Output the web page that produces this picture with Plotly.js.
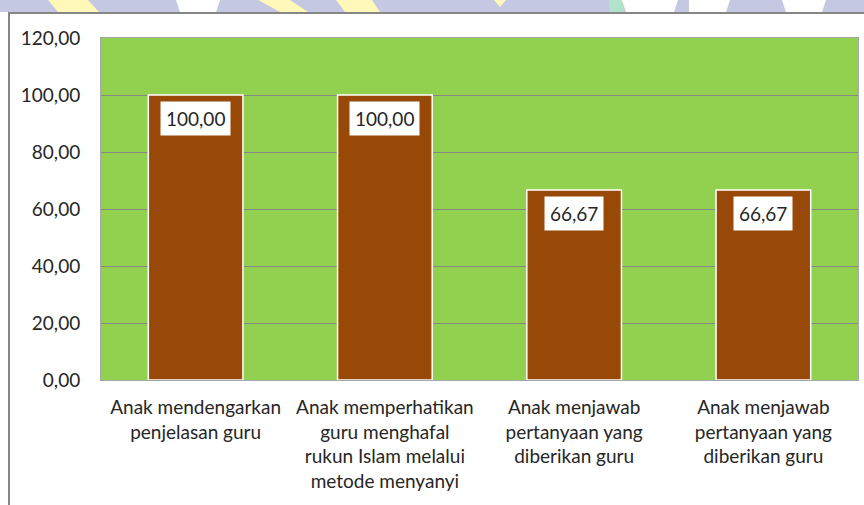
<!DOCTYPE html>
<html>
<head>
<meta charset="utf-8">
<script src="https://cdn.plot.ly/plotly-3.0.1.min.js"></script>
<style>html,body{margin:0;padding:0;background:#fff;}#chart{width:864px;height:505px;}</style>
</head>
<body>
<div id="chart"></div>
<script>
// Data
var categories = [
  "Anak mendengarkan<br>penjelasan guru",
  "Anak memperhatikan<br>guru menghafal<br>rukun Islam melalui<br>metode menyanyi",
  "Anak menjawab<br>pertanyaan yang<br>diberikan guru",
  "Anak menjawab<br>pertanyaan yang<br>diberikan guru"
];
var values = [100.00, 100.00, 66.67, 66.67];
var yTicks = [0, 20, 40, 60, 80, 100, 120];

var positions = categories.map(function (c, i) { return i; });
function fmt(v) { return v.toFixed(2).replace('.', ','); }

var W = 864, H = 505, L = 101, R = 6, T = 38, B = 125;
var pw = W - L - R, ph = H - T - B;
function px(x) { return (x - L) / pw; }
function py(y) { return (H - B - y) / ph; }

var FONT = "Lato, 'Open Sans', sans-serif";
var TXT = '#262626';

var trace = {
  type: 'bar',
  x: positions,
  y: values,
  marker: { color: '#984807', line: { color: '#ffffff', width: 1.5 } },
  hoverinfo: 'skip'
};

var annotations = values.map(function (v, i) {
  return {
    x: positions[i], y: v, xref: 'x', yref: 'y',
    text: fmt(v), showarrow: false,
    yanchor: 'top', yshift: -6,
    bgcolor: '#ffffff', borderpad: 5,
    font: { family: FONT, size: 19, color: TXT }
  };
});

var shapes = [
  // watermark band at top
  { type: 'rect', xref: 'paper', yref: 'paper', x0: px(0), x1: px(864), y0: py(12), y1: py(0), fillcolor: '#C5C8E3', line: { width: 0 }, layer: 'below' },
  { type: 'path', xref: 'paper', yref: 'paper', path: 'M ' + px(48) + ' ' + py(0) + ' L ' + px(88) + ' ' + py(0) + ' L ' + px(99) + ' ' + py(12) + ' L ' + px(58) + ' ' + py(12) + ' Z', fillcolor: '#FFF8B8', line: { width: 0 } },
  { type: 'path', xref: 'paper', yref: 'paper', path: 'M ' + px(176) + ' ' + py(0) + ' L ' + px(220) + ' ' + py(0) + ' L ' + px(216) + ' ' + py(12) + ' L ' + px(180) + ' ' + py(12) + ' Z', fillcolor: '#ffffff', line: { width: 0 } },
  { type: 'path', xref: 'paper', yref: 'paper', path: 'M ' + px(258) + ' ' + py(0) + ' L ' + px(290) + ' ' + py(0) + ' L ' + px(308) + ' ' + py(12) + ' L ' + px(280) + ' ' + py(12) + ' Z', fillcolor: '#FFF8B8', line: { width: 0 } },
  { type: 'path', xref: 'paper', yref: 'paper', path: 'M ' + px(336) + ' ' + py(0) + ' L ' + px(372) + ' ' + py(0) + ' L ' + px(380) + ' ' + py(12) + ' L ' + px(345) + ' ' + py(12) + ' Z', fillcolor: '#FFF8B8', line: { width: 0 } },
  { type: 'path', xref: 'paper', yref: 'paper', path: 'M ' + px(494) + ' ' + py(0) + ' L ' + px(506) + ' ' + py(0) + ' L ' + px(500) + ' ' + py(7) + ' Z', fillcolor: '#FFF8B8', line: { width: 0 } },
  { type: 'rect', xref: 'paper', yref: 'paper', x0: px(609), x1: px(624), y0: py(12), y1: py(0), fillcolor: '#B3E2CC', line: { width: 0 } },
  { type: 'path', xref: 'paper', yref: 'paper', path: 'M ' + px(622) + ' ' + py(0) + ' L ' + px(678) + ' ' + py(0) + ' L ' + px(674) + ' ' + py(12) + ' L ' + px(626) + ' ' + py(12) + ' Z', fillcolor: '#ffffff', line: { width: 0 } },
  { type: 'path', xref: 'paper', yref: 'paper', path: 'M ' + px(689) + ' ' + py(0) + ' L ' + px(730) + ' ' + py(0) + ' L ' + px(726) + ' ' + py(12) + ' L ' + px(689) + ' ' + py(12) + ' Z', fillcolor: '#ffffff', line: { width: 0 } },
  { type: 'path', xref: 'paper', yref: 'paper', path: 'M ' + px(782) + ' ' + py(0) + ' L ' + px(826) + ' ' + py(0) + ' L ' + px(822) + ' ' + py(12) + ' L ' + px(786) + ' ' + py(12) + ' Z', fillcolor: '#ffffff', line: { width: 0 } },
  // chart frame
  { type: 'rect', xref: 'paper', yref: 'paper', x0: px(9), x1: px(880), y0: py(520), y1: py(13), fillcolor: 'rgba(0,0,0,0)', line: { color: '#868686', width: 2 } }
];

var layout = {
  width: W, height: H,
  margin: { l: L, r: R, t: T, b: B, pad: 0 },
  paper_bgcolor: '#ffffff',
  plot_bgcolor: '#92D050',
  separators: ',.',
  showlegend: false,
  bargap: 0.5,
  font: { family: FONT, size: 19, color: TXT },
  xaxis: {
    range: [-0.5, positions.length - 0.5],
    tickvals: positions, ticktext: categories,
    showgrid: false, zeroline: false, ticks: '', ticklabelstandoff: 10,
    showline: true, mirror: true, linecolor: '#a6a6a6', linewidth: 1,
    tickfont: { family: FONT, size: 19, color: TXT },
    fixedrange: true
  },
  yaxis: {
    range: [0, 120], tickvals: yTicks, tickformat: '.2f',
    showgrid: true, gridcolor: '#868686', gridwidth: 1,
    zeroline: false, ticks: '', ticklabelstandoff: 16,
    showline: true, mirror: true, linecolor: '#a6a6a6', linewidth: 1,
    tickfont: { family: FONT, size: 19, color: TXT },
    fixedrange: true
  },
  annotations: annotations,
  shapes: shapes
};

Plotly.newPlot('chart', [trace], layout, { displayModeBar: false, staticPlot: true });
</script>
</body>
</html>
